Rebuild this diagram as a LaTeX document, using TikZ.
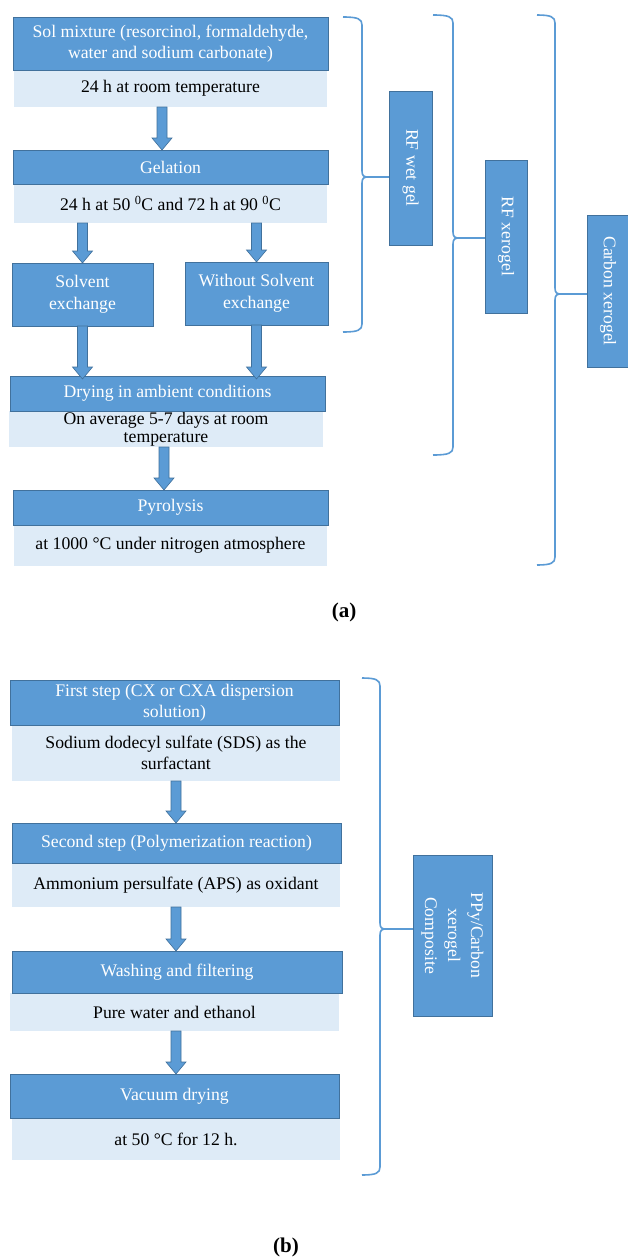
\documentclass[tikz,border=0pt]{standalone}
\usepackage{fontspec}
\setmainfont{Liberation Serif}
\usetikzlibrary{calc}
\definecolor{dkblue}{HTML}{5B9BD5}
\definecolor{dkedge}{HTML}{41719C}
\definecolor{ltblue}{HTML}{DEEBF7}
\tikzset{
 txt/.style={font=\fontsize{17.7pt}{21.5pt}\selectfont, align=center, inner sep=0pt, outer sep=0pt},
 dk/.style={txt, fill=dkblue, draw=dkedge, line width=0.8pt, text=white},
 lt/.style={txt, fill=ltblue, text=black},
 arr/.style={fill=dkblue, draw=dkedge, line width=0.6pt},
 br/.style={draw=dkblue, line width=1.6pt},
 lbl/.style={font=\fontsize{21pt}{24pt}\selectfont\bfseries, inner sep=0pt},
}
\newcommand\blockarr[2]{%
  \filldraw[arr] let \p1=(#1), \p2=(#2) in
    ({\x1-5pt},\y1) -- ({\x1+5pt},\y1) -- ({\x1+5pt},{\y2+12pt}) -- ({\x1+10pt},{\y2+12pt})
    -- (\x1,\y2) -- ({\x1-10pt},{\y2+12pt}) -- ({\x1-5pt},{\y2+12pt}) -- cycle;}
\newcommand\mybrace[6]{%
  \draw[br] (#1,#3) .. controls ({#2-4},#3) and (#2,{#3+2}) .. (#2,{#3+8})
    -- (#2,{#4-6}) .. controls (#2,{#4-1}) and ({#2+2},#4) .. ({#2+6},#4)
    .. controls ({#2+2},#4) and (#2,{#4+1}) .. (#2,{#4+6})
    -- (#2,{#5-8}) .. controls (#2,{#5-2}) and ({#2-4},#5) .. (#1,#5);
  \coordinate (#6) at ({#2+6},#4);}
\begin{document}
\begin{tikzpicture}[x=1pt,y=-1pt]
\useasboundingbox (0,0) rectangle (627,1258);
\fill[white] (0,0) rectangle (627,1258);
% ---------- part (a) ----------
\node[lt, anchor=north west, minimum width=313pt, minimum height=37pt] (solL) at (14,70) {24 h at room temperature};
\node[dk, anchor=north west, minimum width=315pt, minimum height=53pt] (sol) at (13,17) {Sol mixture (resorcinol, formaldehyde,\\water and sodium carbonate)};
\node[lt, anchor=north west, minimum width=313pt, minimum height=39pt] (gelL) at (14,184) {24 h at 50 \textsuperscript{0}C and 72 h at 90 \textsuperscript{0}C};
\node[dk, anchor=north west, minimum width=315pt, minimum height=34pt] (gel) at (13,150) {Gelation};
\node[dk, anchor=north west, minimum width=141pt, minimum height=63pt] (solv) at (12,263) {Solvent\\exchange};
\node[dk, anchor=north west, minimum width=143pt, minimum height=63pt] (without) at (185,262) {Without Solvent\\exchange};
\node[lt, anchor=north west, minimum width=314pt, minimum height=36pt, font=\fontsize{17.7pt}{18pt}\selectfont] (dryL) at (9,411) {On average 5-7 days at room\\temperature};
\node[dk, anchor=north west, minimum width=315pt, minimum height=35pt] (dry) at (10,376) {Drying in ambient conditions};
\node[lt, anchor=north west, minimum width=313pt, minimum height=41pt] (pyrL) at (14,525) {at 1000 °C under nitrogen atmosphere};
\node[dk, anchor=north west, minimum width=315pt, minimum height=35pt] (pyr) at (13,490) {Pyrolysis};

\blockarr{[xshift=-8.5pt]solL.south}{[xshift=-8.5pt]gel.north}
\blockarr{gelL.south -| solv.north}{solv.north}
\blockarr{gelL.south -| without.north}{without.north}
\blockarr{solv.south}{[yshift=-3pt]dry.north -| solv.south}
\blockarr{without.south}{[yshift=-3pt]dry.north -| without.south}
\blockarr{[xshift=-2pt]dryL.south}{[xshift=-2pt]pyr.north -| dryL.south}

\node[dk, rotate=-90, minimum width=154pt, minimum height=43pt] (wet) at (410.5,168) {RF wet gel};
\node[dk, rotate=-90, minimum width=153pt, minimum height=42pt] (xer) at (506,236.5) {RF xerogel};
\node[dk, rotate=-90, minimum width=152pt, minimum height=42pt] (carb) at (608,291) {Carbon xerogel};

\mybrace{343}{362}{17}{177}{332}{t1}
\mybrace{433}{453}{15}{238}{455}{t2}
\mybrace{537}{555}{15}{294}{565}{t3}
\draw[br] (t1) -- (t1 -| wet.south);
\draw[br] (t2) -- (t2 -| xer.south);
\draw[br] (t3) -- (t3 -| carb.south);

\node[lbl] (la) at (344,612) {(a)};

% ---------- part (b) ----------
\node[lt, anchor=north west, minimum width=328pt, minimum height=56pt, font=\fontsize{17.7pt}{20.5pt}\selectfont] (firstL) at (12,725) {Sodium dodecyl sulfate (SDS) as the\\surfactant};
\node[dk, anchor=north west, minimum width=329pt, minimum height=45pt, font=\fontsize{17.7pt}{20.5pt}\selectfont] (first) at (10,680) {First step (CX or CXA dispersion\\solution)};
\node[lt, anchor=north west, minimum width=328pt, minimum height=44pt] (secondL) at (12,863) {Ammonium persulfate (APS) as oxidant};
\node[dk, anchor=north west, minimum width=329pt, minimum height=40pt] (second) at (12,823) {Second step (Polymerization reaction)};
\node[lt, anchor=north west, minimum width=329pt, minimum height=38pt] (washL) at (10,993) {Pure water and ethanol};
\node[dk, anchor=north west, minimum width=330pt, minimum height=42pt] (wash) at (12,951) {Washing and filtering};
\node[lt, anchor=north west, minimum width=328pt, minimum height=42pt] (vacL) at (12,1118) {at 50 °C for 12 h.};
\node[dk, anchor=north west, minimum width=329pt, minimum height=44pt] (vac) at (10,1074) {Vacuum drying};

\blockarr{firstL.south}{second.north -| firstL.south}
\blockarr{secondL.south}{wash.north -| secondL.south}
\blockarr{washL.south -| secondL.south}{vac.north -| secondL.south}

\node[dk, rotate=-90, minimum width=161pt, minimum height=79pt, font=\fontsize{17.7pt}{23pt}\selectfont] (ppy) at (452.5,935.5) {PPy/Carbon\\xerogel\\Composite};
\mybrace{362}{380}{678}{929}{1175}{tb}
\draw[br] (tb) -- (tb -| ppy.south);

\node[lbl] (lb) at (286,1247) {(b)};
\end{tikzpicture}
\end{document}
